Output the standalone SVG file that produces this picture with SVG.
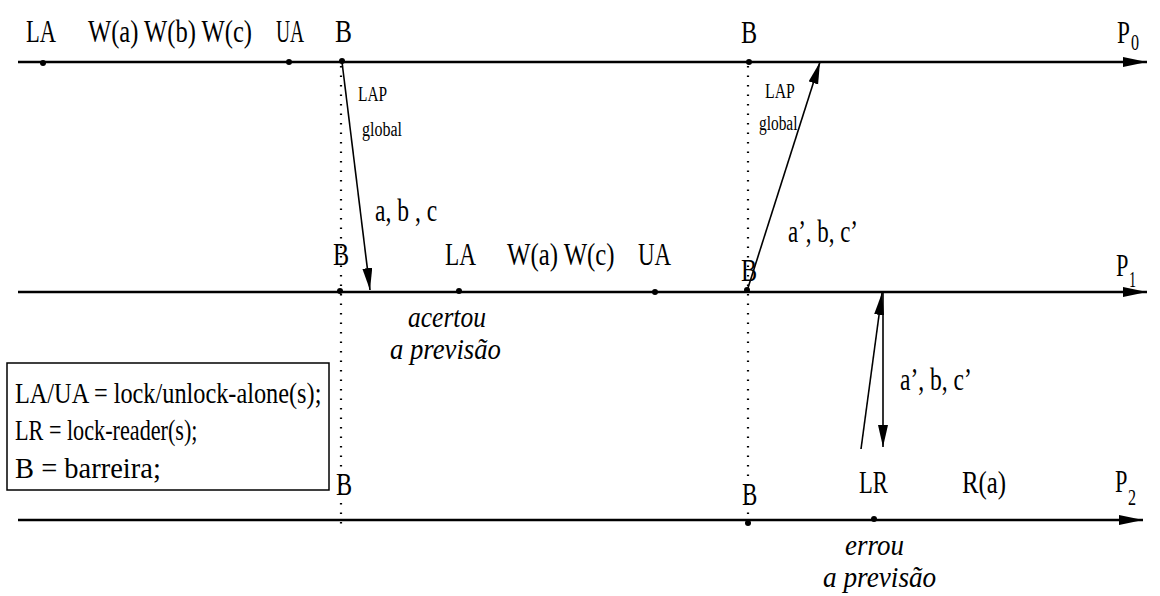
<svg xmlns="http://www.w3.org/2000/svg" width="1160" height="596" viewBox="0 0 1160 596" font-family="'Liberation Serif', 'Times New Roman', 'DejaVu Serif', serif">
<style>
text{font-family:"Liberation Serif","Times New Roman","DejaVu Serif",serif;fill:#000}
.big{font-size:31px}
.sm{font-size:20px}
.it{font-size:29px;font-style:italic}
.leg{font-size:30px}
.sub{font-size:23px}
.tl{stroke:#000;stroke-width:2.3;fill:none}
.msg{stroke:#000;stroke-width:1.6;fill:none}
.dot{stroke:#000;stroke-width:2.2;stroke-dasharray:1.5 8;fill:none}
.ev{fill:#000}
</style>
<defs>
<marker id="ah" markerUnits="userSpaceOnUse" markerWidth="24" markerHeight="12" refX="22" refY="5" orient="auto">
<path d="M0,0 L22,5 L0,10 Z" fill="#000"/>
</marker>
<marker id="ahl" markerUnits="userSpaceOnUse" markerWidth="26" markerHeight="12" refX="24" refY="5" orient="auto">
<path d="M0,0 L24,5 L0,10 Z" fill="#000"/>
</marker>
</defs>
<rect width="1160" height="596" fill="#fff"/>
<g id="timelines">
<line class="tl" x1="18" y1="62" x2="1147" y2="62" marker-end="url(#ahl)"/>
<line class="tl" x1="18" y1="292" x2="1147" y2="292" marker-end="url(#ahl)"/>
<line class="tl" x1="18" y1="520" x2="1143" y2="520" marker-end="url(#ahl)"/>
</g>
<g id="barriers">
<line class="dot" x1="341" y1="66" x2="341" y2="524"/>
<line class="dot" x1="748" y1="66" x2="748" y2="524"/>
</g>
<g id="p0">
<circle class="ev" cx="43" cy="63" r="3"/>
<circle class="ev" cx="289" cy="62" r="3"/>
<circle class="ev" cx="342" cy="61" r="3"/>
<circle class="ev" cx="749" cy="62" r="3"/>
<text class="big" transform="translate(26,42) scale(0.726,1)">LA</text>
<text class="big" transform="translate(88,42) scale(0.792,1)">W(a) W(b) W(c)</text>
<text class="big" transform="translate(276,42) scale(0.63,1)">UA</text>
<text class="big" transform="translate(335,42) scale(0.82,1)">B</text>
<text class="big" transform="translate(741,43) scale(0.78,1)">B</text>
<text class="big" transform="translate(1117,43) scale(0.75,1)">P</text>
<text class="sub" transform="translate(1131,50) scale(0.7,1)">0</text>
</g>
<g id="p1">
<circle class="ev" cx="340" cy="291" r="3"/>
<circle class="ev" cx="459" cy="291" r="3"/>
<circle class="ev" cx="655" cy="292" r="3"/>
<circle class="ev" cx="747" cy="290" r="3"/>
<text class="big" transform="translate(333,265) scale(0.78,1)">B</text>
<text class="big" transform="translate(445,265) scale(0.75,1)">LA</text>
<text class="big" transform="translate(507,265) scale(0.8,1)">W(a) W(c)</text>
<text class="big" transform="translate(638,265) scale(0.74,1)">UA</text>
<text class="big" transform="translate(741,281) scale(0.78,1)">B</text>
<text class="big" transform="translate(1116,276) scale(0.72,1)">P</text>
<text class="sub" transform="translate(1129,287) scale(0.62,1)">1</text>
<text class="it" transform="translate(408,327) scale(0.88,1)">acertou</text>
<text class="it" transform="translate(390,359) scale(0.92,1)">a previsão</text>
</g>
<g id="p2">
<circle class="ev" cx="748" cy="523" r="3"/>
<circle class="ev" cx="874" cy="519" r="3"/>
<text class="big" transform="translate(336,495) scale(0.78,1)">B</text>
<text class="big" transform="translate(742,505) scale(0.74,1)">B</text>
<text class="big" transform="translate(859,493) scale(0.73,1)">LR</text>
<text class="big" transform="translate(962,493) scale(0.8,1)">R(a)</text>
<text class="big" transform="translate(1115,492) scale(0.72,1)">P</text>
<text class="sub" transform="translate(1128,505) scale(0.7,1)">2</text>
<text class="it" transform="translate(845,555) scale(0.93,1)">errou</text>
<text class="it" transform="translate(823,587) scale(0.94,1)">a previsão</text>
</g>
<g id="legend">
<rect x="7" y="363" width="322" height="127" fill="none" stroke="#000" stroke-width="1.5"/>
<text class="leg" transform="translate(15,403) scale(0.81,1)">LA/UA = lock/unlock-alone(s);</text>
<text class="leg" transform="translate(15,440) scale(0.74,1)">LR = lock-reader(s);</text>
<text class="leg" transform="translate(15,478) scale(0.95,1)">B = barreira;</text>
</g>
<g id="connectors">
<line class="msg" x1="342" y1="62" x2="370" y2="290" marker-end="url(#ah)"/>
<line class="msg" x1="747" y1="291" x2="820" y2="62" marker-end="url(#ah)"/>
<line class="msg" x1="861" y1="449" x2="882" y2="293" marker-end="url(#ah)"/>
<line class="msg" x1="883" y1="293" x2="883" y2="447" marker-end="url(#ah)"/>
</g>
<g id="labels">
<text class="sm" transform="translate(358,101) scale(0.77,1)">LAP</text>
<text class="sm" transform="translate(362,136) scale(0.8,1)">global</text>
<text class="big" transform="translate(375,221) scale(0.76,1)">a, b , c</text>
<text class="sm" transform="translate(765,98) scale(0.79,1)">LAP</text>
<text class="sm" transform="translate(759,130) scale(0.77,1)">global</text>
<text class="big" transform="translate(788,242) scale(0.74,1)">a’, b, c’</text>
<text class="big" transform="translate(900,390) scale(0.76,1)">a’, b, c’</text>
</g>
</svg>
